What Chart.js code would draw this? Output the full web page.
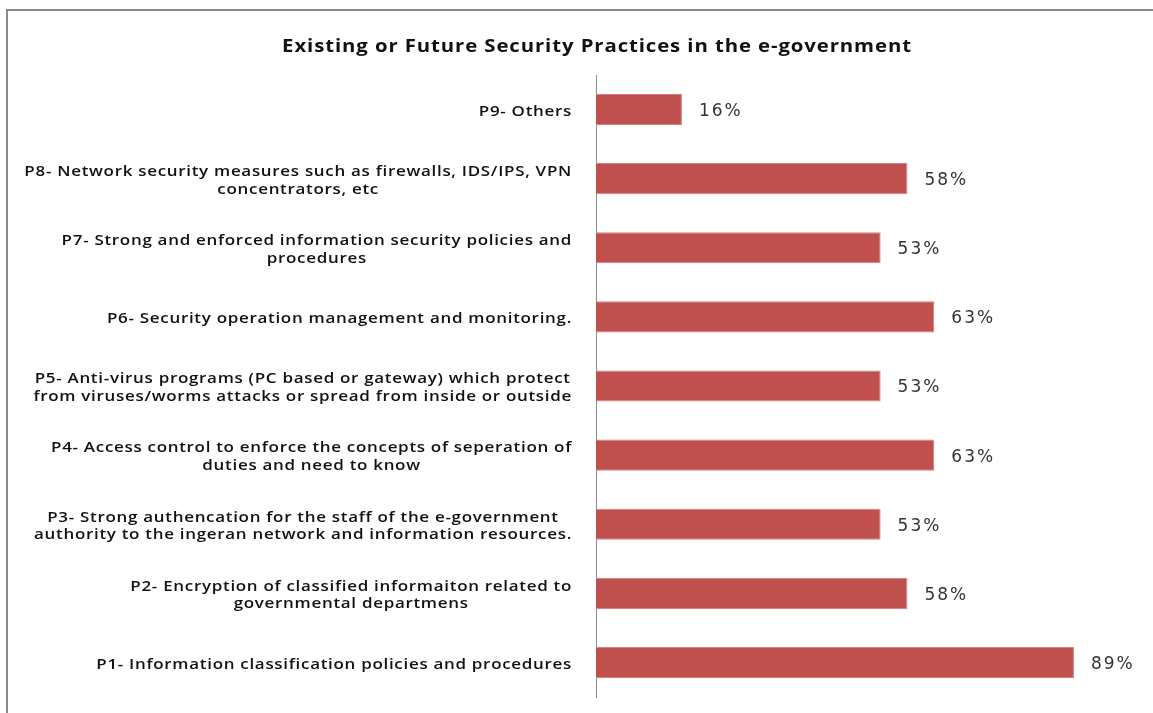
<!DOCTYPE html>
<html lang="en">
<head>
  <meta charset="utf-8">
  <title>Security Practices in the e-government</title>
  <script src="https://cdn.jsdelivr.net/npm/chart.js@4.4.1/dist/chart.umd.min.js"></script>
  <style>
    html, body { margin: 0; padding: 0; background: #fff; overflow: hidden; }
    .frame {
      position: absolute; left: 6px; top: 9px; width: 1300px; height: 900px;
      border-left: 2px solid #8a8a8a; border-top: 2px solid #8a8a8a;
    }
    .chart-box { position: absolute; left: 0; top: 0; width: 1153px; height: 713px; }
  </style>
</head>
<body>
  <div class="frame"></div>
  <div class="chart-box">
    <canvas id="practiceChart"></canvas>
  </div>
  <script>
    const chartTitle = 'Existing or Future Security Practices in the e-government';
    // Practices, top row first
    const practiceLabels = [
      ['P9- Others'],
      ['P8- Network security measures such as firewalls, IDS/IPS, VPN', 'concentrators, etc'],
      ['P7- Strong and enforced information security policies and', 'procedures'],
      ['P6- Security operation management and monitoring.'],
      ['P5- Anti-virus programs (PC based or gateway) which protect', 'from viruses/worms attacks or spread from inside or outside'],
      ['P4- Access control to enforce the concepts of seperation of', 'duties and need to know'],
      ['P3- Strong authencation for the staff of the e-government', 'authority to the ingeran network and information resources.'],
      ['P2- Encryption of classified informaiton related to', 'governmental departmens'],
      ['P1- Information classification policies and procedures']
    ];
    // Share of respondents, percent
    const practiceValues = [16, 58, 53, 63, 53, 63, 53, 58, 89];

    const labelFont = '600 14.5px "Open Sans", sans-serif';
    const titleFont = 'bold 18px "Open Sans", sans-serif';
    const valueFont = '17px "DejaVu Sans", sans-serif';

    // text drawn slightly widened, like the wide office fonts
    function wideText(ctx, text, x, y, sx) {
      ctx.save();
      ctx.translate(x, y);
      ctx.scale(sx, 1);
      ctx.fillText(text, 0, 0);
      ctx.restore();
    }

    // Title and category labels (right-aligned block, lines centred inside it)
    const textLayer = {
      id: 'textLayer',
      afterDraw(chart) {
        const ctx = chart.ctx;
        const yScale = chart.scales.y;
        const right = chart.chartArea.left - 24;
        const lineH = 17.5;
        const sx = 1.17;
        ctx.save();
        ctx.fillStyle = '#111';
        ctx.textAlign = 'center';
        ctx.textBaseline = 'middle';

        ctx.font = titleFont;
        ctx.letterSpacing = '0.8px';
        wideText(ctx, chartTitle, 597, 47, 1.13);

        ctx.font = labelFont;
        ctx.letterSpacing = '0.6px';
        practiceLabels.forEach((lines, i) => {
          const w = sx * Math.max(...lines.map(l => ctx.measureText(l).width));
          const cx = right - w / 2;
          const cy = yScale.getPixelForTick(i) + 2;
          const y0 = cy - (lines.length - 1) * lineH / 2;
          lines.forEach((l, k) => wideText(ctx, l, cx, y0 + k * lineH, sx));
        });
        ctx.restore();
      }
    };

    // Percent label past the end of each bar
    const valueLabels = {
      id: 'valueLabels',
      afterDatasetsDraw(chart) {
        const ctx = chart.ctx;
        const meta = chart.getDatasetMeta(0);
        ctx.save();
        ctx.font = valueFont;
        ctx.letterSpacing = '2px';
        ctx.fillStyle = '#333';
        ctx.textAlign = 'left';
        ctx.textBaseline = 'middle';
        meta.data.forEach((bar, i) => {
          ctx.fillText(practiceValues[i] + '%', bar.x + 17, bar.y + 2);
        });
        ctx.restore();
      }
    };

    new Chart(document.getElementById('practiceChart'), {
      type: 'bar',
      data: {
        labels: practiceLabels,
        datasets: [{
          data: practiceValues,
          backgroundColor: '#c0504d',
          borderColor: '#d4807d',
          borderWidth: 1,
          borderSkipped: 'left',
          categoryPercentage: 1,
          barPercentage: 0.45
        }]
      },
      options: {
        indexAxis: 'y',
        responsive: true,
        maintainAspectRatio: false,
        animation: false,
        layout: { padding: { left: 60, right: 20, top: 75, bottom: 16 } },
        scales: {
          x: { display: false, min: 0, max: 100 },
          y: {
            grid: { display: false, drawTicks: false },
            border: { display: true, color: '#8c8c8c', width: 1 },
            ticks: { display: false },
            afterFit(scale) { scale.width = 536; }
          }
        },
        plugins: {
          legend: { display: false },
          tooltip: { enabled: false },
          title: { display: false }
        }
      },
      plugins: [textLayer, valueLabels]
    });
  </script>
</body>
</html>
